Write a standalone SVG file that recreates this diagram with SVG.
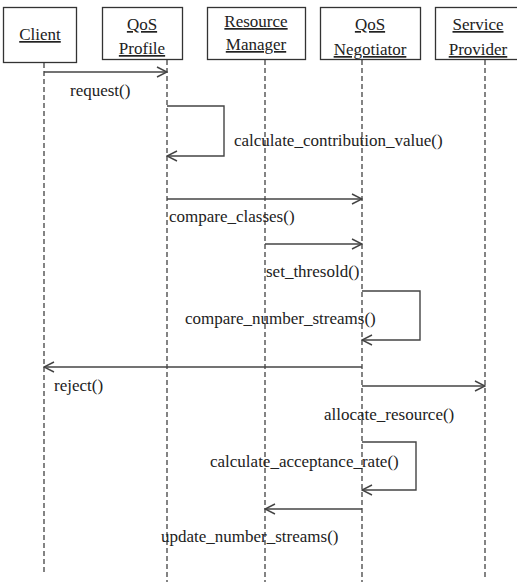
<svg xmlns="http://www.w3.org/2000/svg" width="517" height="582" viewBox="0 0 517 582">
<defs>
<style>
.box{fill:#fff;stroke:#333;stroke-width:1.3}
.life{stroke:#333;stroke-width:1.2;stroke-dasharray:5 3;fill:none}
.msg{stroke:#444;stroke-width:1.4;fill:none}
text{font-family:"Liberation Serif","Times New Roman",serif;font-size:17px;fill:#222}
.h{text-anchor:middle;text-decoration:underline}
</style>
<marker id="open" viewBox="0 0 12 12" refX="11" refY="6" markerWidth="12" markerHeight="12" markerUnits="userSpaceOnUse" orient="auto">
<path d="M1 1 L11 6 L1 11" fill="none" stroke="#444" stroke-width="1.4"/>
</marker>
</defs>
<rect width="517" height="582" fill="#fff"/>
<g id="lifelines">
<line class="life" x1="44" y1="63" x2="44" y2="573"/>
<line class="life" x1="167" y1="60" x2="167" y2="582"/>
<line class="life" x1="265" y1="60" x2="265" y2="582"/>
<line class="life" x1="362" y1="60" x2="362" y2="582"/>
<line class="life" x1="485" y1="60" x2="485" y2="580"/>
</g>
<g id="client">
<rect class="box" x="3.5" y="7.5" width="73" height="55"/>
<text class="h" x="40" y="40">Client</text>
</g>
<g id="qos-profile">
<rect class="box" x="102.5" y="7.5" width="80" height="52"/>
<text class="h" x="142" y="30">QoS</text>
<text class="h" x="142" y="54">Profile</text>
</g>
<g id="resource-manager">
<rect class="box" x="207.5" y="7.5" width="98" height="52"/>
<text class="h" x="256" y="27">Resource</text>
<text class="h" x="256" y="50">Manager</text>
</g>
<g id="qos-negotiator">
<rect class="box" x="320.5" y="7.5" width="100" height="52"/>
<text class="h" x="370" y="30">QoS</text>
<text class="h" x="370" y="55">Negotiator</text>
</g>
<g id="service-provider">
<rect class="box" x="435.5" y="7.5" width="84" height="52"/>
<text class="h" x="478" y="30">Service</text>
<text class="h" x="478" y="55">Provider</text>
</g>
<g id="connectors">
<line class="msg" x1="44" y1="72" x2="167" y2="72" marker-end="url(#open)"/>
<polyline class="msg" points="167,106 224,106 224,156 167,156" marker-end="url(#open)"/>
<line class="msg" x1="167" y1="199" x2="362" y2="199" marker-end="url(#open)"/>
<line class="msg" x1="265" y1="244" x2="362" y2="244" marker-end="url(#open)"/>
<polyline class="msg" points="362,291 420,291 420,340 362,340" marker-end="url(#open)"/>
<line class="msg" x1="362" y1="367" x2="44" y2="367" marker-end="url(#open)"/>
<line class="msg" x1="362" y1="386" x2="485" y2="386" marker-end="url(#open)"/>
<polyline class="msg" points="362,442 416,442 416,490 362,490" marker-end="url(#open)"/>
<line class="msg" x1="362" y1="509" x2="265" y2="509" marker-end="url(#open)"/>
</g>
<g id="labels">
<text x="70" y="96">request()</text>
<text x="234" y="146">calculate_contribution_value()</text>
<text x="169" y="222">compare_classes()</text>
<text x="266" y="277">set_thresold()</text>
<text x="185" y="324">compare_number_streams()</text>
<text x="54" y="391">reject()</text>
<text x="324" y="420">allocate_resource()</text>
<text x="210" y="467">calculate_acceptance_rate()</text>
<text x="161" y="542">update_number_streams()</text>
</g>
</svg>
